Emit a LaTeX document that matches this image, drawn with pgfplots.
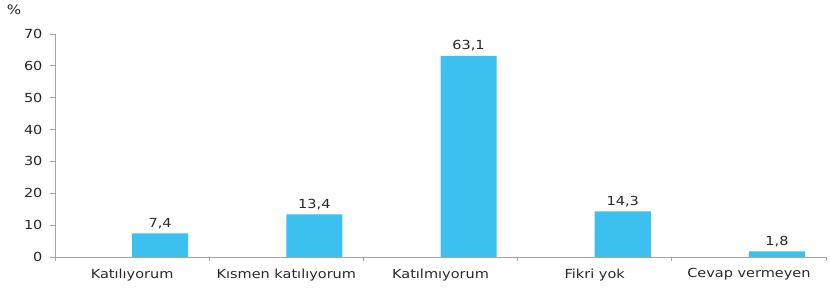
\documentclass[border=0pt]{standalone}
\usepackage{fontspec}
\setmainfont[FakeStretch=1.16]{DejaVu Sans}
\usepackage{pgfplots}
\pgfplotsset{compat=1.18}
\definecolor{barc}{RGB}{59,192,240}
\definecolor{txt}{RGB}{40,40,40}
\definecolor{axc}{RGB}{165,165,165}
\begin{document}
\begin{tikzpicture}
\begin{axis}[
  at={(0pt,0pt)}, anchor=south west,
  scale only axis, width=771pt, height=223pt,
  xmin=-0.5, xmax=4.5, ymin=0, ymax=70,
  axis x line=bottom, axis y line=left,
  axis line style={-, draw=axc, line width=0.8pt},
  ytick={0,10,...,70},
  xtick={0,1,2,3,4},
  xticklabels={Katılıyorum, Kısmen katılıyorum, Katılmıyorum, Fikri yok, Cevap vermeyen},
  minor xtick={-0.5,0.5,1.5,2.5,3.5,4.5},
  major x tick style={draw=none},
  minor x tick style={draw=axc, line width=0.8pt},
  major y tick style={draw=axc, line width=0.8pt},
  tick align=outside,
  major tick length=5pt, minor tick length=4pt,
  /pgf/number format/assume math mode=true,
  tick label style={font=\fontsize{12.5}{14}\selectfont, text=txt},
  y tick label style={xshift=-4pt},
  x tick label style={yshift=-3pt},
  ybar, bar width=0.364, bar shift=0.182,
  nodes near coords={\pgfmathprintnumber[fixed, fixed zerofill, precision=1, use comma]{\pgfplotspointmeta}},
  every node near coord/.append style={font=\fontsize{12.5}{14}\selectfont, text=txt, yshift=1pt},
  clip=false,
]
\addplot[draw=none, fill=barc] coordinates {(0,7.4) (1,13.4) (2,63.1) (3,14.3) (4,1.8)};
\end{axis}
\node[font=\fontsize{13}{14}\selectfont, text=txt] at (-41pt,247pt) {\%};
\pgfresetboundingbox
\path[use as bounding box] (-55pt,-31pt) rectangle (776pt,257pt);
\end{tikzpicture}
\end{document}
